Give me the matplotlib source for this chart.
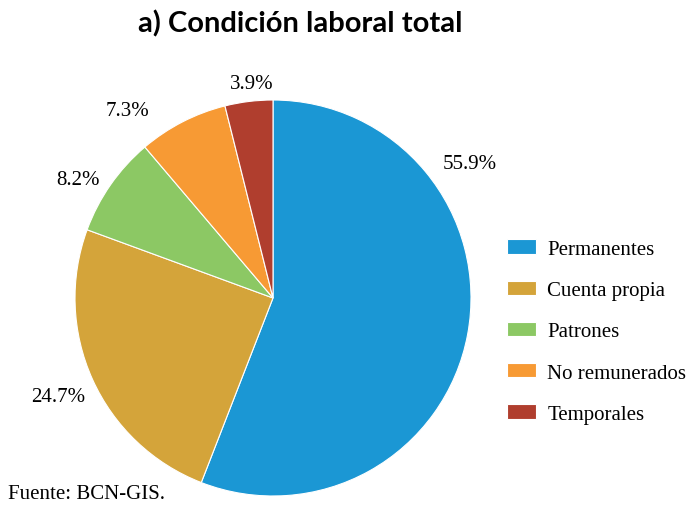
import matplotlib.pyplot as plt

# Data
categories = ['Permanentes', 'Cuenta propia', 'Patrones', 'No remunerados', 'Temporales']
shares = [55.9, 24.7, 8.2, 7.3, 3.9]
colors = ['#1B97D4', '#D4A43A', '#8CC864', '#F79A34', '#B03E2E']

# label positions (in pie radius units), placed like the original "best fit"
label_pos = [(0.995, 0.677), (-1.086, -0.495), (-0.985, 0.596), (-0.737, 0.949), (-0.106, 1.081)]

serif = ['Liberation Serif', 'DejaVu Serif']

fig = plt.figure(figsize=(6.91, 5.06), dpi=100)
ax = fig.add_axes([75 / 691, 9 / 506, 396 / 691, 396 / 506])

wedges, _ = ax.pie(shares, colors=colors, startangle=90, counterclock=False,
                   radius=1, wedgeprops=dict(linewidth=0.8, edgecolor='white'))
ax.set_xlim(-1, 1)
ax.set_ylim(-1, 1)
ax.set_aspect('auto')

for (x, y), v in zip(label_pos, shares):
    ax.text(x, y, f'{v}%', ha='center', va='center', fontsize=15,
            family=serif, clip_on=False)

fig.legend(wedges, categories, loc='upper left', bbox_to_anchor=(507 / 691, 0.525),
           frameon=False, prop=dict(family=serif, size=15),
           handlelength=1.4, handleheight=0.67, handletextpad=0.53,
           labelspacing=1.05, borderpad=0, borderaxespad=0)

fig.text(0.434, 0.952, 'a) Condición laboral total', ha='center', va='center',
         fontsize=21, fontweight='bold', family=['Lato', 'DejaVu Sans'])

fig.text(8 / 691, 1 - 495 / 506, 'Fuente: BCN-GIS.', ha='left', va='center',
         fontsize=15, family=serif)

plt.savefig('out.png', dpi=100, facecolor='white')
